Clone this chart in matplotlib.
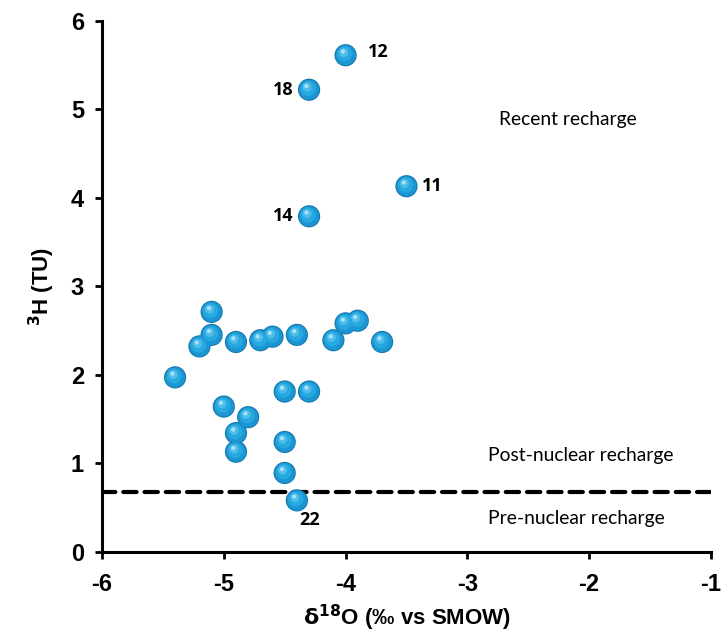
import matplotlib
matplotlib.use("Agg")
import matplotlib.pyplot as plt
import numpy as np

# d18O vs 3H for the sampled waters
d18o = [-4.0, -4.3, -3.5, -4.3, -5.1, -5.1, -5.2, -5.4, -4.9, -4.7, -4.6, -4.4,
        -4.1, -4.0, -3.9, -3.7, -4.5, -4.3, -5.0, -4.8, -4.9, -4.9, -4.5, -4.5, -4.4]
tritium = [5.61, 5.22, 4.13, 3.79, 2.71, 2.45, 2.32, 1.97, 2.37, 2.39, 2.43, 2.45,
           2.39, 2.58, 2.61, 2.37, 1.81, 1.81, 1.64, 1.52, 1.34, 1.13, 1.24, 0.89, 0.58]
sample_labels = {0: '12', 1: '18', 2: '11', 3: '14', 24: '22'}
nuclear_limit = 0.67

xticks = [-6, -5, -4, -3, -2, -1]
yticks = [0, 1, 2, 3, 4, 5, 6]

fig = plt.figure(figsize=(7.24, 6.39), dpi=100)
ax = fig.add_axes([0.1409, 0.1366, 0.8411, 0.831])

x = np.array(d18o)
y = np.array(tritium)

# fake 3D spheres: soft rim, body, then lighter highlights
ax.scatter(x, y, s=16 ** 2, color='#1378ad', edgecolors='none', zorder=3)
ax.scatter(x, y, s=14.5 ** 2, color='#1b96d2', edgecolors='none', zorder=4)
ax.scatter(x - 0.008, y + 0.015, s=11 ** 2, color='#27a8e0', edgecolors='none', zorder=5)
ax.scatter(x - 0.016, y + 0.03, s=6.5 ** 2, color='#4fbdea', edgecolors='none', zorder=6)
ax.scatter(x - 0.022, y + 0.042, s=3 ** 2, color='#a9e2f8', edgecolors='none', zorder=7)

# threshold between pre- and post-nuclear recharge
ax.axhline(nuclear_limit, color='black', linewidth=3, dashes=(3.2, 1.9),
           dash_capstyle='round', zorder=2)

lab_font = dict(family=['Open Sans', 'DejaVu Sans'], fontweight='bold', fontsize=13)
offsets = {'12': (16, 2, 'left', 'center'), '18': (-11, 0, 'right', 'center'),
           '11': (11, 0, 'left', 'center'), '14': (-11, 0, 'right', 'center'),
           '22': (9, -14, 'center', 'center')}
for i, lab in sample_labels.items():
    dx, dy, ha, va = offsets[lab]
    ax.annotate(lab, (d18o[i], tritium[i]), xytext=(dx, dy), textcoords='offset points',
                ha=ha, va=va, **lab_font)

reg_font = dict(family=['Lato', 'DejaVu Sans'], fontsize=13.9)
ax.text(-2.74, 4.88, 'Recent recharge', ha='left', va='center', **reg_font)
ax.text(-2.83, 1.09, 'Post-nuclear recharge', ha='left', va='center', **reg_font)
ax.text(-2.83, 0.38, 'Pre-nuclear recharge', ha='left', va='center', **reg_font)

ax.set_xlim(-6, -1)
ax.set_ylim(0, 6)
ax.set_xticks(xticks)
ax.set_yticks(yticks)
ax.set_xticklabels([str(t) for t in xticks])
ax.set_yticklabels([str(t) for t in yticks])

for s in ['top', 'right']:
    ax.spines[s].set_visible(False)
for s in ['left', 'bottom']:
    ax.spines[s].set_linewidth(2.2)
ax.tick_params(direction='out', length=5, width=2)
ax.tick_params(axis='x', pad=10)
ax.tick_params(axis='y', pad=8)
for t in ax.get_xticklabels() + ax.get_yticklabels():
    t.set_family(['Liberation Sans', 'DejaVu Sans'])
    t.set_fontweight('bold')
    t.set_fontsize(17)

ax.set_xlabel(r'$\mathbf{\delta}$$^{\mathbf{18}}$O (‰ vs SMOW)', fontsize=16, fontweight='bold',
              family=['Liberation Sans', 'DejaVu Sans'], labelpad=5)
ax.set_ylabel(r'$^{\mathbf{3}}$H (TU)', fontsize=16, fontweight='bold',
              family=['Liberation Sans', 'DejaVu Sans'], labelpad=10)

fig.savefig('out.png', dpi=100)
